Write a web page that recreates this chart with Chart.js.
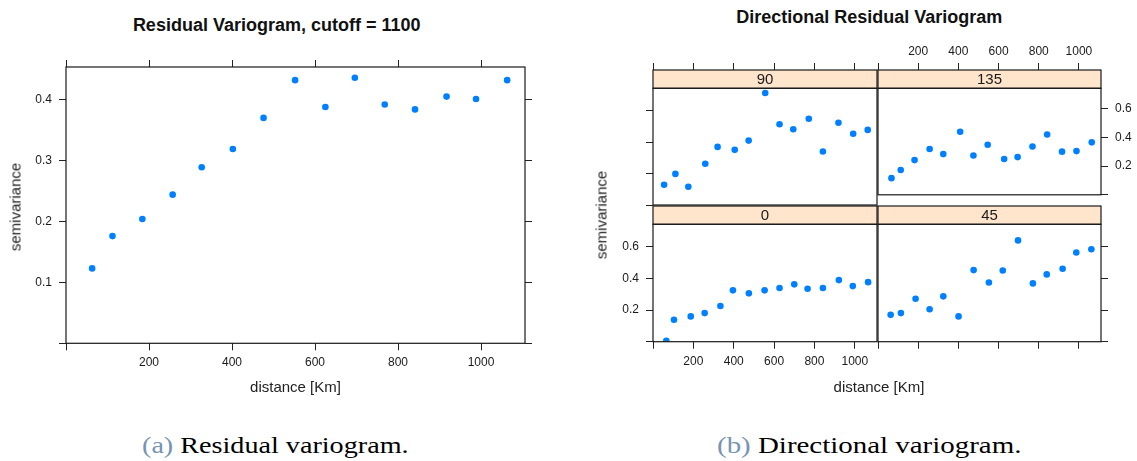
<!DOCTYPE html>
<html>
<head>
<meta charset="utf-8">
<script src="https://cdn.jsdelivr.net/npm/chart.js@4/dist/chart.umd.min.js"></script>
<style>
  html, body { margin: 0; padding: 0; background: #fff; }
  #page { position: relative; width: 1137px; height: 461px; overflow: hidden; background: #fff; }
  #page canvas { position: absolute; }
  .txt { position: absolute; white-space: nowrap; line-height: 1; color: #111;
         font-family: "Liberation Sans", Arial, sans-serif; }
  .title { font-weight: bold; font-size: 18px; transform: translateX(-50%); }
  .axt { font-size: 15px; color: #222; }
  .axt.h { transform: translateX(-50%); }
  .axt.v { transform: translate(-50%, -50%) rotate(-90deg); }
  .cap { font-family: "Liberation Serif", "Times New Roman", serif; font-size: 24px;
         color: #000; transform-origin: 0 0; }
  .cap .tag { color: #7794b1; }
</style>
</head>
<body>
<div id="page"></div>
<script>
// ---- Residual variogram, cutoff = 1100 ----
const DIST = [63, 112, 184, 257, 327, 402, 476, 552, 625, 696, 768, 841, 917, 988, 1063];
const GAMMA = [0.123, 0.176, 0.204, 0.244, 0.289, 0.319, 0.370, 0.432, 0.388, 0.436, 0.392, 0.384, 0.405, 0.401, 0.432];

// ---- Directional residual variogram (one panel per direction, degrees) ----
const DIST_90  = [55, 111, 175, 259, 320, 405, 474, 556, 627, 695, 772, 842, 919, 992, 1064];
const GAMMA_90 = [0.129, 0.198, 0.116, 0.263, 0.370, 0.351, 0.410, 0.713, 0.514, 0.482, 0.549, 0.341, 0.524, 0.454, 0.478];

const DIST_135  = [67, 113, 182, 257, 325, 409, 475, 546, 628, 695, 769, 842, 916, 988, 1064];
const GAMMA_135 = [0.116, 0.173, 0.242, 0.320, 0.284, 0.440, 0.274, 0.349, 0.250, 0.263, 0.337, 0.421, 0.301, 0.305, 0.366];

const DIST_0  = [66, 104, 187, 256, 334, 396, 475, 553, 627, 700, 766, 842, 921, 990, 1066];
const GAMMA_0 = [0.005, 0.139, 0.160, 0.181, 0.226, 0.325, 0.306, 0.325, 0.340, 0.363, 0.335, 0.340, 0.390, 0.352, 0.377];

const DIST_45  = [63, 114, 187, 257, 325, 401, 476, 552, 621, 697, 771, 840, 919, 987, 1062];
const GAMMA_45 = [0.170, 0.181, 0.272, 0.205, 0.287, 0.160, 0.453, 0.375, 0.451, 0.641, 0.369, 0.426, 0.462, 0.565, 0.585];

// ---- Axis ticks ----
const X_TICKS = [0, 200, 400, 600, 800, 1000];
const X_TICK_LABELS = ['', '200', '400', '600', '800', '1000'];
const Y_TICKS_A = [0, 0.1, 0.2, 0.3, 0.4];
const Y_TICK_LABELS_A = ['', '0.1', '0.2', '0.3', '0.4'];
const Y_TICKS_B = [0, 0.2, 0.4, 0.6];
const Y_TICK_LABELS_B = ['', '0.2', '0.4', '0.6'];

// axis limits (lattice pads the data range)
const X_MAX_A = 1106, Y_MAX_A = 0.4536;
const X_MAX_B = 1110, Y_MAX_B = 0.743;

// ---- styling ----
const FONT_FAMILY = '"Liberation Sans", Arial, sans-serif';
const AXIS_COL = '#222';
const FRAME_COL = '#1a1a1a';
const TICK_LEN = 7;
const STRIP_H = 18.3;
const STRIP_FILL = '#ffe5cc';
const POINT_COL = '#0080ff';

Chart.defaults.font.family = FONT_FAMILY;
Chart.defaults.animation = false;

const page = document.getElementById('page');

// panel frame + lattice-style strip above the plotting region
const panelDecor = {
  id: 'panelDecor',
  afterDraw(chart, args, opts) {
    const { ctx, chartArea: a } = chart;
    const w = a.right - a.left;
    ctx.save();
    ctx.lineWidth = 1.2;
    ctx.strokeStyle = FRAME_COL;
    if (opts.strip != null) {
      const st = a.top - STRIP_H;
      ctx.fillStyle = STRIP_FILL;
      ctx.fillRect(a.left, st, w, STRIP_H);
      ctx.strokeRect(a.left, st, w, STRIP_H);
      ctx.fillStyle = '#1a1a1a';
      ctx.font = '15px ' + FONT_FAMILY;
      ctx.textAlign = 'center';
      ctx.textBaseline = 'middle';
      ctx.fillText(opts.strip, (a.left + a.right) / 2, st + STRIP_H / 2 + 0.5);
    }
    ctx.strokeRect(a.left, a.top, w, a.bottom - a.top);
    ctx.restore();
  }
};

function axis(side, mode, size, ticks, labels, max, padding, weight) {
  const horiz = side === 'top' || side === 'bottom';
  return {
    type: 'linear',
    axis: horiz ? 'x' : 'y',
    position: side,
    display: true,
    weight: weight,
    min: 0,
    max: max,
    grid: { display: true, drawOnChartArea: false, drawTicks: true,
            tickLength: TICK_LEN, color: AXIS_COL, lineWidth: 1 },
    border: { display: false },
    ticks: {
      display: mode === 'labels',
      padding: padding,
      color: '#1a1a1a',
      font: { family: FONT_FAMILY, size: 12 },
      maxRotation: 0, minRotation: 0, autoSkip: false,
      callback: (v, i) => labels[i]
    },
    afterBuildTicks: s => { s.ticks = ticks.map(v => ({ value: v })); },
    afterFit: s => { if (horiz) s.height = size; else s.width = size; }
  };
}

function makePanel(p) {
  const { area, pad } = p;
  const cl = Math.floor(area.l - pad.l), ct = Math.floor(area.t - pad.t);
  const cr = Math.ceil(area.r + pad.r), cb = Math.ceil(area.b + pad.b);
  const sz = { l: area.l - cl, t: area.t - ct, r: cr - area.r, b: cb - area.b };

  const cv = document.createElement('canvas');
  cv.width = cr - cl;
  cv.height = cb - ct;
  Object.assign(cv.style, { left: cl + 'px', top: ct + 'px',
                            width: (cr - cl) + 'px', height: (cb - ct) + 'px' });
  page.appendChild(cv);

  const padding = { left: 0, right: 0, top: 0, bottom: 0 };
  const scales = {};

  if (p.bottom) scales.x = axis('bottom', p.bottom, sz.b, X_TICKS, X_TICK_LABELS, p.xMax, 5.5, 0);
  else { scales.x = { type: 'linear', axis: 'x', position: 'bottom', display: false, min: 0, max: p.xMax }; padding.bottom = sz.b; }

  if (p.left) scales.y = axis('left', p.left, sz.l, p.yTicks, p.yLabels, p.yMax, 7, 0);
  else { scales.y = { type: 'linear', axis: 'y', position: 'left', display: false, min: 0, max: p.yMax }; padding.left = sz.l; }

  if (p.right) scales.y2 = axis('right', p.right, sz.r, p.yTicks, p.yLabels, p.yMax, 7, 0);
  else padding.right = sz.r;

  let topRoom = sz.t;
  if (p.top) {
    if (p.strip != null) {
      // keeps the top axis clear of the strip
      scales.xs = { type: 'linear', axis: 'x', position: 'top', display: true, weight: 0,
                    min: 0, max: 1, grid: { display: false }, border: { display: false },
                    ticks: { display: false },
                    afterFit: s => { s.height = STRIP_H; } };
      topRoom -= STRIP_H;
    }
    scales.x2 = axis('top', p.top, topRoom, X_TICKS, X_TICK_LABELS, p.xMax, 4, 1);
  } else padding.top = sz.t;

  new Chart(cv, {
    type: 'scatter',
    data: {
      datasets: [{
        data: p.xs.map((d, i) => ({ x: d, y: p.ys[i] })),
        xAxisID: 'x', yAxisID: 'y',
        pointRadius: 3.3,
        pointBackgroundColor: POINT_COL,
        pointBorderColor: POINT_COL,
        pointBorderWidth: 0,
        clip: 0
      }]
    },
    options: {
      responsive: false,
      maintainAspectRatio: false,
      devicePixelRatio: 1,
      events: [],
      layout: { padding },
      scales,
      plugins: { legend: { display: false }, tooltip: { enabled: false },
                 panelDecor: { strip: p.strip } }
    },
    plugins: [panelDecor]
  });
}

// (a) residual variogram
makePanel({
  area: { l: 66, t: 67, r: 525, b: 343.3 }, pad: { l: 66, t: 20, r: 20, b: 36 },
  left: 'labels', bottom: 'labels', top: 'ticks', right: 'ticks',
  xs: DIST, ys: GAMMA, xMax: X_MAX_A, yMax: Y_MAX_A,
  yTicks: Y_TICKS_A, yLabels: Y_TICK_LABELS_A
});

// (b) directional panels, lattice layout: 90 | 135 over 0 | 45
const COL_L = 653, COL_M = 877.5, COL_R = 1101;
const ROW1_T = 70 + STRIP_H, ROW1_B = 206, ROW2_T = 206 + STRIP_H, ROW2_B = 341.7;

makePanel({
  area: { l: COL_L, t: ROW1_T, r: COL_M, b: ROW1_B }, pad: { l: 16, t: STRIP_H + 10, r: 3, b: 3 },
  left: 'ticks', top: 'ticks', strip: '90',
  xs: DIST_90, ys: GAMMA_90, xMax: X_MAX_B, yMax: Y_MAX_B,
  yTicks: Y_TICKS_B, yLabels: Y_TICK_LABELS_B
});
makePanel({
  area: { l: COL_M, t: ROW1_T, r: COL_R, b: ROW1_B }, pad: { l: 3, t: STRIP_H + 34, r: 36, b: 3 },
  right: 'labels', top: 'labels', strip: '135',
  xs: DIST_135, ys: GAMMA_135, xMax: X_MAX_B, yMax: Y_MAX_B,
  yTicks: Y_TICKS_B, yLabels: Y_TICK_LABELS_B
});
makePanel({
  area: { l: COL_L, t: ROW2_T, r: COL_M, b: ROW2_B }, pad: { l: 50, t: STRIP_H + 3, r: 3, b: 32 },
  left: 'labels', bottom: 'labels', strip: '0',
  xs: DIST_0, ys: GAMMA_0, xMax: X_MAX_B, yMax: Y_MAX_B,
  yTicks: Y_TICKS_B, yLabels: Y_TICK_LABELS_B
});
makePanel({
  area: { l: COL_M, t: ROW2_T, r: COL_R, b: ROW2_B }, pad: { l: 3, t: STRIP_H + 3, r: 12, b: 12 },
  right: 'ticks', bottom: 'ticks', strip: '45',
  xs: DIST_45, ys: GAMMA_45, xMax: X_MAX_B, yMax: Y_MAX_B,
  yTicks: Y_TICKS_B, yLabels: Y_TICK_LABELS_B
});

// ---- titles, axis labels, captions ----
function addText(html, cls, left, top) {
  const d = document.createElement('div');
  d.className = 'txt ' + cls;
  d.innerHTML = html;
  d.style.left = left + 'px';
  d.style.top = top + 'px';
  page.appendChild(d);
  return d;
}

addText('Residual Variogram, cutoff = 1100', 'title', 276.7, 16.3);
addText('Directional Residual Variogram', 'title', 869.3, 7.8);

addText('distance [Km]', 'axt h', 295.5, 379.3);
addText('distance [Km]', 'axt h', 879, 378.8);
addText('semivariance', 'axt v', 15.3, 207);
addText('semivariance', 'axt v', 600.5, 215);

function addCaption(tag, text, left, width) {
  const d = addText('<span class="tag">(' + tag + ')</span> ' + text, 'cap', left, 433.2);
  const w = d.getBoundingClientRect().width;
  d.style.transform = 'scaleX(' + (width / w) + ')';
}
addCaption('a', 'Residual variogram.', 141.7, 266.6);
addCaption('b', 'Directional variogram.', 717.3, 304.4);
</script>
</body>
</html>
